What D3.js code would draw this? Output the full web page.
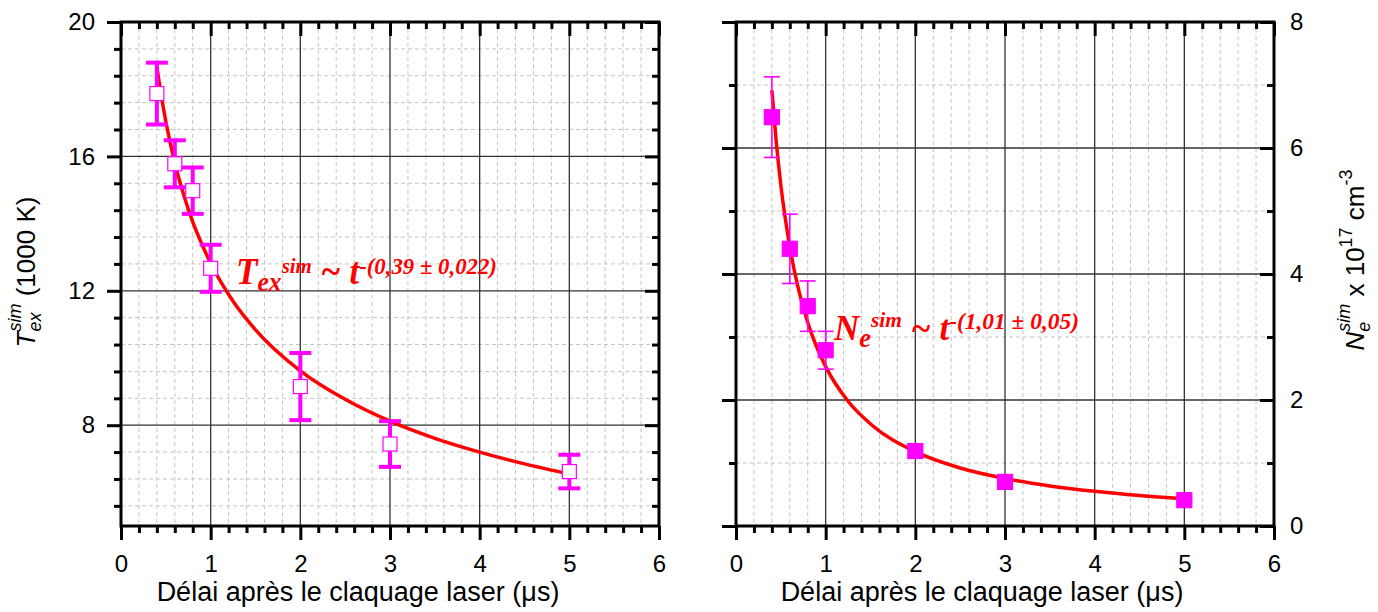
<!DOCTYPE html>
<html><head><meta charset="utf-8">
<script src="https://cdn.jsdelivr.net/npm/d3@7"></script>
<style>body{margin:0;background:#fff}svg{display:block}</style>
</head><body>
<svg id="chart" width="1378" height="612"></svg>
<script>
// ---------------- data ----------------
const delays = [0.4, 0.6, 0.8, 1, 2, 3, 5];
const tempValues = [17.87, 15.78, 14.98, 12.67, 9.15, 7.44, 6.62];
const tempErrors = [0.92, 0.70, 0.69, 0.70, 1.00, 0.68, 0.50];
const densValues = [6.49, 4.40, 3.49, 2.79, 1.19, 0.70, 0.41];
const densErrors = [0.64, 0.55, 0.40, 0.30, 0.10, 0.04, 0.03];

const fitDelays = [0.4, 0.45, 0.5, 0.6, 0.7, 0.8, 0.9, 1.0, 1.25, 1.5, 2, 2.5, 3, 3.5, 4, 4.5, 5];
const tempFit = [18.66, 17.80, 17.04, 15.81, 14.85, 14.05, 13.40, 12.82, 11.69, 10.84, 9.62, 8.77, 8.12, 7.61, 7.20, 6.85, 6.55];
const densFit = [6.92, 6.08, 5.41, 4.43, 3.74, 3.23, 2.84, 2.53, 1.98, 1.62, 1.18, 0.92, 0.754, 0.636, 0.55, 0.483, 0.43];

const xTicks = [0, 1, 2, 3, 4, 5, 6];
const tempTicks = [8, 12, 16, 20];
const densTicks = [0, 2, 4, 6, 8];

const xTitle = "Délai après le claquage laser (μs)";

// --------------- helpers ---------------
const svg = d3.select("#chart");
const SANS = "'Liberation Sans', Arial, sans-serif";
const SERIF = "'Liberation Serif', 'Times New Roman', serif";
const MAG = "#ff00ff", RED = "#ff0000";

function richText(parent, parts, family, fill, weight) {
  // parts: {t, size, italic, dy, stack}
  const g = parent.append("g");
  const inner = g.append("g");
  let x = 0, lastStart = 0, lastEnd = 0;
  parts.forEach(p => {
    const start = p.stack ? lastStart : x;
    const el = inner.append("text")
      .attr("x", start).attr("y", p.dy || 0)
      .attr("font-family", family)
      .attr("font-size", p.size)
      .attr("font-style", p.italic ? "italic" : "normal")
      .attr("font-weight", weight || "normal")
      .attr("fill", fill)
      .attr("xml:space", "preserve")
      .text(p.t);
    const w = el.node().getComputedTextLength();
    if (p.stack) { x = Math.max(lastEnd, start + w); }
    else { lastStart = start; lastEnd = start + w; x = start + w; }
  });
  return { g, inner, width: x };
}

function panel(cfg) {
  const x = d3.scaleLinear().domain([0, 6]).range([cfg.left, cfg.right]);
  const y = d3.scaleLinear().domain(cfg.yDomain).range([526, 22]);
  const g = svg.append("g");
  const minorX = d3.range(0.2, 6, 0.2).filter(v => Math.abs(v - Math.round(v)) > 1e-6);
  const minorY = cfg.minorY;

  // minor grid (dashed)
  g.append("g").selectAll("line.mx").data(minorX).join("line")
    .attr("x1", d => x(d)).attr("x2", d => x(d)).attr("y1", 22).attr("y2", 526)
    .attr("stroke", "#c4c4c4").attr("stroke-width", 1).attr("stroke-dasharray", "4,3");
  g.append("g").selectAll("line.my").data(minorY).join("line")
    .attr("y1", d => y(d)).attr("y2", d => y(d)).attr("x1", cfg.left).attr("x2", cfg.right)
    .attr("stroke", "#c4c4c4").attr("stroke-width", 1).attr("stroke-dasharray", "4,3");
  // major grid
  g.append("g").selectAll("line").data(xTicks.slice(1, -1)).join("line")
    .attr("x1", d => x(d)).attr("x2", d => x(d)).attr("y1", 22).attr("y2", 526)
    .attr("stroke", "#333").attr("stroke-width", 1.3);
  g.append("g").selectAll("line").data(cfg.yTicks.filter(v => v > cfg.yDomain[0] && v < cfg.yDomain[1])).join("line")
    .attr("y1", d => y(d)).attr("y2", d => y(d)).attr("x1", cfg.left).attr("x2", cfg.right)
    .attr("stroke", "#333").attr("stroke-width", 1.3);

  const styleAxis = (sel, w) => {
    sel.select(".domain").remove();
    sel.selectAll(".tick line").attr("stroke", "#000").attr("stroke-width", w);
    sel.selectAll(".tick text").attr("font-family", SANS).attr("font-size", 24).attr("fill", "#000");
  };

  // bottom axis
  g.append("g").attr("transform", "translate(0,526)")
    .call(d3.axisBottom(x).tickValues(minorX).tickSize(7).tickFormat(""))
    .call(s => styleAxis(s, 3));
  g.append("g").attr("transform", "translate(0,526)")
    .call(d3.axisBottom(x).tickValues(xTicks).tickSize(14).tickPadding(15).tickFormat(d3.format("d")))
    .call(s => styleAxis(s, 3));
  // top axis (inward)
  g.append("g").attr("transform", "translate(0,22)")
    .call(d3.axisTop(x).tickValues(minorX).tickSize(-7).tickFormat(""))
    .call(s => styleAxis(s, 3));
  g.append("g").attr("transform", "translate(0,22)")
    .call(d3.axisTop(x).tickValues(xTicks).tickSize(-14).tickFormat(""))
    .call(s => styleAxis(s, 3));
  // left axis (outward)
  g.append("g").attr("transform", `translate(${cfg.left},0)`)
    .call(d3.axisLeft(y).tickValues(minorY).tickSize(7).tickFormat(""))
    .call(s => styleAxis(s, 3));
  g.append("g").attr("transform", `translate(${cfg.left},0)`)
    .call(d3.axisLeft(y).tickValues(cfg.yTicks).tickSize(14).tickPadding(12)
      .tickFormat(cfg.labelsLeft ? d3.format("d") : ""))
    .call(s => styleAxis(s, 3));
  // right axis (inward)
  g.append("g").attr("transform", `translate(${cfg.right},0)`)
    .call(d3.axisRight(y).tickValues(minorY).tickSize(-7).tickFormat(""))
    .call(s => styleAxis(s, 3));
  g.append("g").attr("transform", `translate(${cfg.right},0)`)
    .call(d3.axisRight(y).tickValues(cfg.yTicks).tickSize(-14).tickPadding(16)
      .tickFormat(cfg.labelsLeft ? "" : d3.format("d")))
    .call(s => styleAxis(s, 3));

  // frame
  g.append("rect").attr("x", cfg.left).attr("y", 22)
    .attr("width", cfg.right - cfg.left).attr("height", 504)
    .attr("fill", "none").attr("stroke", "#000").attr("stroke-width", 3);

  // fit curve
  const line = d3.line().x((d, i) => x(fitDelays[i])).y(d => y(d)).curve(d3.curveMonotoneX);
  g.append("path").datum(cfg.fit).attr("d", line)
    .attr("fill", "none").attr("stroke", RED).attr("stroke-width", 3.5);

  // error bars
  const eb = g.append("g").attr("stroke", MAG).attr("stroke-width", cfg.ebWidth);
  delays.forEach((t, i) => {
    const v = cfg.values[i], e = cfg.errors[i];
    eb.append("line").attr("x1", x(t)).attr("x2", x(t)).attr("y1", y(v + e)).attr("y2", y(v - e));
    eb.append("line").attr("x1", x(t) - cfg.cap).attr("x2", x(t) + cfg.cap).attr("y1", y(v + e)).attr("y2", y(v + e));
    eb.append("line").attr("x1", x(t) - cfg.cap).attr("x2", x(t) + cfg.cap).attr("y1", y(v - e)).attr("y2", y(v - e));
  });
  // markers
  g.append("g").selectAll("rect").data(cfg.values).join("rect")
    .attr("x", (d, i) => x(delays[i]) - cfg.ms / 2).attr("y", d => y(d) - cfg.ms / 2)
    .attr("width", cfg.ms).attr("height", cfg.ms)
    .attr("fill", cfg.filled ? MAG : "#fff").attr("stroke", MAG).attr("stroke-width", 1.2);

  // x title
  g.append("text").attr("x", cfg.titleX).attr("y", 601).attr("text-anchor", "middle")
    .attr("font-family", SANS).attr("font-size", 27).text(xTitle);
  return { x, y, g };
}

// -------- left panel: temperature --------
const P1 = panel({
  left: 121, right: 659, yDomain: [5, 20], yTicks: tempTicks,
  minorY: d3.range(5.6, 20, 0.8).filter(v => !tempTicks.some(t => Math.abs(t - v) < 1e-6)),
  labelsLeft: true, fit: tempFit, values: tempValues, errors: tempErrors,
  ebWidth: 4, cap: 11, ms: 14, filled: false, titleX: 358
});
// -------- right panel: density --------
const P2 = panel({
  left: 736, right: 1274, yDomain: [0, 8], yTicks: densTicks,
  minorY: [1, 3, 5, 7],
  labelsLeft: false, fit: densFit, values: densValues, errors: densErrors,
  ebWidth: 1.6, cap: 8, ms: 15, filled: true, titleX: 982
});

// -------- annotations (fitted to the reference extent) --------
function placeFit(obj, x0, x1, baseline) {
  const s = (x1 - x0) / obj.width;
  obj.g.attr("transform", `translate(${x0},${baseline})`);
  obj.inner.attr("transform", `scale(${s},1)`);
}
const a1 = richText(svg, [
  { t: "T", size: 37, italic: true },
  { t: "ex", size: 27, italic: true, dy: 7 },
  { t: "sim", size: 22, italic: true, dy: -11 },
  { t: " ~ t", size: 37, italic: true },
  { t: "-(0,39 ± 0,022)", size: 24, italic: true, dy: -10 }
], SERIF, RED, "bold");
placeFit(a1, 236, 497, 284);

const a2 = richText(svg, [
  { t: "N", size: 36, italic: true },
  { t: "e", size: 27, italic: true, dy: 7 },
  { t: "sim", size: 22, italic: true, dy: -13 },
  { t: " ~ t", size: 36, italic: true },
  { t: "-(1,01 ± 0,05)", size: 24, italic: true, dy: -11 }
], SERIF, RED, "bold");
placeFit(a2, 834, 1079, 340);

// -------- rotated y titles --------
const yl = richText(svg, [
  { t: "T", size: 26, italic: true },
  { t: "ex", size: 18, italic: true, dy: 6 },
  { t: "sim", size: 18, italic: true, dy: -14, stack: true },
  { t: " (1000 K)", size: 26 }
], SANS, "#000");
yl.g.attr("transform", `translate(35,${272 + yl.width / 2}) rotate(-90)`);

const yr = richText(svg, [
  { t: "N", size: 26, italic: true },
  { t: "e", size: 18, italic: true, dy: 6 },
  { t: "sim", size: 18, italic: true, dy: -14, stack: true },
  { t: " x 10", size: 26 },
  { t: "17", size: 18, dy: -12 },
  { t: " cm", size: 26 },
  { t: "-3", size: 18, dy: -12 }
], SANS, "#000");
yr.g.attr("transform", `translate(1364,${260 + yr.width / 2}) rotate(-90)`);
</script>
</body></html>
